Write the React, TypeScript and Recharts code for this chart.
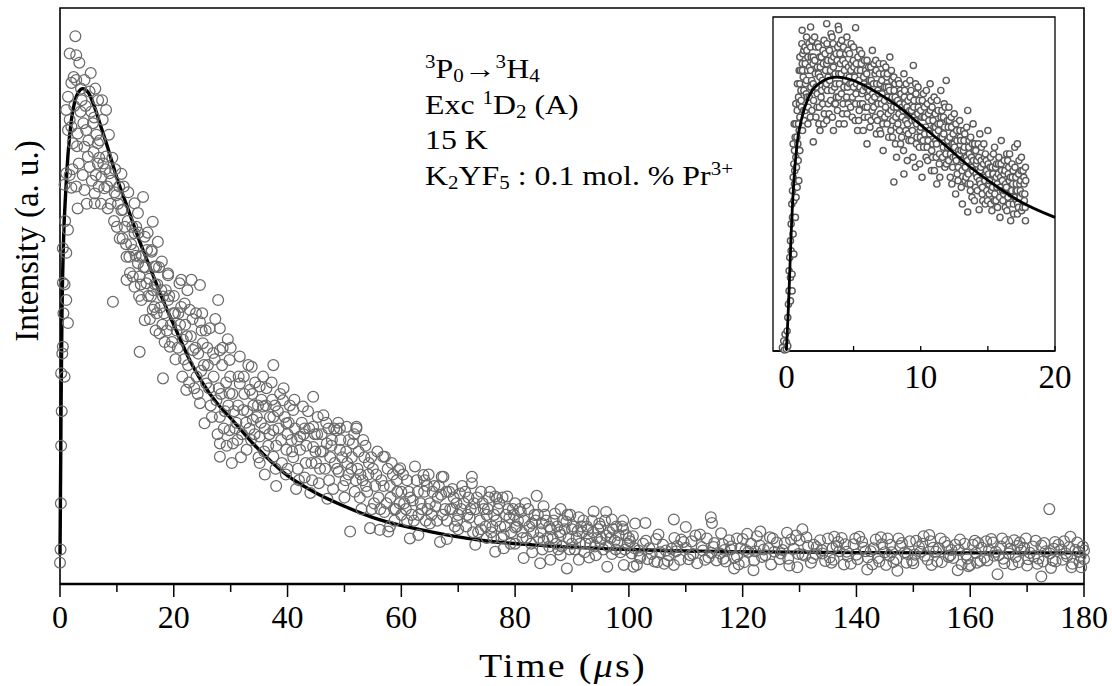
import { ComposedChart, Scatter, Line, XAxis, YAxis, ReferenceArea } from 'recharts';

// main decay: time (µs), intensity (a.u., 0-100 of the frame height)
const riseData: [number, number][] = [
  [0, 3.7], [0.1, 6], [0.15, 14], [0.2, 24], [0.2, 36.6], [0.3, 30], [0.4, 40], [0.5, 41.2], [0.5, 52.3],
  [0.5, 58.3], [0.6, 47], [0.8, 36], [0.8, 52], [0.8, 69.3], [0.9, 63], [1.1, 49.3], [1.1, 57.5], [1.1, 71.3],
  [1.1, 82.3], [1.4, 45.3], [1.4, 61.5], [1.4, 78.8], [1.4, 84.6], [1.7, 71], [1.7, 80.6], [1.7, 92.1],
];

const peakData: [number, number][] = [
  [2, 87], [2, 79.4], [2, 68.8], [2.2, 72], [2.25, 76.5], [2.4, 88], [2.5, 83], [2.7, 95.1], [2.85, 91.8],
  [2.85, 87.5], [2.85, 69], [3, 76], [3.1, 78.2], [3.1, 65.2], [3.3, 73], [3.4, 90.5], [3.6, 82], [3.7, 86],
  [3.8, 84], [4, 71], [4.1, 80], [4.3, 87.5], [4.3, 75.9], [4.3, 68.4], [4.5, 83], [4.6, 78.8], [4.7, 66],
  [4.9, 74.2], [5, 77], [5.2, 85.5], [5.2, 72.4], [5.4, 88.7], [5.5, 82], [5.6, 70], [5.8, 80], [5.9, 75],
  [6, 81], [6.1, 67.8], [6.1, 66.1], [6.2, 86], [6.3, 71], [6.4, 78], [6.65, 76.5], [6.65, 73], [6.7, 84],
  [6.8, 69], [6.9, 74], [7, 77], [7.2, 66], [7.3, 70.7], [7.4, 84], [7.5, 80.6], [7.6, 73], [7.8, 68.7],
  [8, 72], [8.1, 82.3], [8.1, 74.2], [8.3, 69], [8.4, 65.2], [8.6, 78], [8.7, 71.3], [8.9, 66], [9, 70],
  [9.2, 74], [9.3, 49], [9.5, 63], [9.6, 68], [9.7, 72], [9.9, 67.5], [10, 62],
];

const midData: [number, number][] = [
  [10.2, 66], [10.4, 69], [10.5, 60], [10.8, 71.2], [10.8, 64.9], [11, 60], [11.1, 65], [11.2, 69],
  [11.4, 62], [11.6, 59], [11.7, 56.8], [11.7, 52.8], [11.9, 63], [12, 68], [12.2, 56.8], [12.3, 54],
  [12.5, 59], [12.7, 62], [12.8, 53.4], [12.9, 58], [13.1, 66.1], [13.1, 60.9], [13.1, 51.6], [13.3, 57],
  [13.4, 62], [13.7, 64.4], [13.7, 55.7], [13.8, 61], [13.9, 50], [14, 53.4], [14, 56.8], [14, 40.3],
  [14.2, 52], [14.3, 49.3], [14.4, 57], [14.6, 67.2], [14.7, 55], [14.9, 60.3], [14.9, 45.8], [15, 55],
  [15.2, 52.2], [15.3, 58], [15.4, 61], [15.5, 50], [15.7, 53], [15.8, 46], [16, 50], [16.1, 58],
  [16.1, 57.7], [16.3, 62.9], [16.3, 47.6], [16.4, 51], [16.6, 55.1], [16.6, 48.1], [16.7, 52], [16.8, 44],
  [16.9, 55.1], [17, 47], [17.1, 52], [17.2, 59.4], [17.4, 55], [17.5, 43.5], [17.6, 48], [17.8, 51],
  [17.9, 56], [18, 45], [18.1, 49.9], [18.1, 35.7], [18.3, 47], [18.4, 42], [18.6, 51], [18.8, 44],
  [19, 53.9], [19, 49.3], [19, 53.6], [19.2, 50], [19.3, 41.2], [19.5, 45], [19.7, 42], [19.9, 47], [20, 50],
  [20.2, 47], [20.3, 39], [20.5, 44], [20.7, 41], [20.8, 47], [21, 52.2], [21.1, 45], [21.3, 52.8],
  [21.3, 48.1], [21.5, 36], [21.6, 42.4], [21.8, 39], [21.9, 48.7], [22, 45], [22.2, 33.7], [22.3, 43],
  [22.4, 51], [22.5, 38], [22.7, 35], [22.8, 47.6], [23, 43], [23.1, 52.8], [23.3, 46], [23.4, 40.6],
  [23.6, 34], [23.8, 41], [23.9, 47], [24, 36], [24.2, 33], [24.3, 40], [24.6, 51.9], [24.6, 45.5],
  [24.6, 31.4], [24.8, 37], [24.9, 44], [25, 47], [25.1, 41.8], [25.4, 27.9], [25.7, 34.8],
];

const slopeData: [number, number][] = [
  [25.3, 38], [25.6, 44], [25.9, 41], [26, 38], [26.2, 34], [26.3, 44.4], [26.5, 31], [26.7, 29],
  [26.9, 40.1], [27, 36], [27.2, 39], [27.3, 46], [27.5, 31.9], [27.7, 26], [27.8, 49.3], [27.9, 34],
  [28.1, 44.4], [28.1, 40.6], [28.1, 29], [28.1, 24.4], [28.1, 22.1], [28.3, 33], [28.5, 38], [28.6, 41],
  [28.8, 27], [29, 30], [29.2, 35], [29.3, 24], [29.5, 42.5], [29.6, 31], [29.8, 38.9], [29.8, 33.1],
  [29.8, 26.7], [29.9, 36], [30, 41], [30.2, 21], [30.3, 33], [30.4, 24.4], [30.6, 30], [30.8, 27], [31, 28],
  [31.2, 25], [31.3, 31], [31.4, 36], [31.6, 39.5], [31.6, 34.8], [31.8, 22], [32, 26], [32.2, 30.2],
  [32.3, 36], [32.4, 33], [32.7, 28], [32.8, 23.3], [32.9, 30], [33.1, 38], [33.3, 27], [33.4, 33.7],
  [33.6, 25], [33.7, 37.7], [33.8, 33], [33.9, 28.5], [34, 31], [34.2, 26], [34.3, 35], [34.6, 29],
  [34.8, 31], [34.9, 22], [35.1, 34.3], [35.1, 25.6], [35.1, 21], [35.3, 28], [35.4, 32], [35.7, 36],
  [35.7, 30.8], [35.9, 23], [36, 27], [36, 19], [36.2, 31], [36.3, 34], [36.6, 24], [36.8, 26], [36.9, 29],
  [37.2, 35], [37.3, 32], [37.5, 38], [37.5, 29], [37.5, 26.7], [37.5, 22.1], [37.8, 31], [37.9, 20],
  [38, 24], [38, 17], [38.3, 30], [38.4, 27], [38.7, 33], [38.9, 25], [39, 21], [39.2, 31.9], [39.3, 34],
  [39.5, 29], [39.7, 19], [39.8, 27.9], [39.8, 23.3], [40, 26], [40, 20], [40.2, 28], [40.4, 31], [40.7, 25],
  [40.8, 23], [41, 30.2], [41, 22], [41.2, 32], [41.3, 27], [41.5, 16.5], [41.7, 25], [41.8, 20], [42, 18],
  [42.2, 25.6], [42.2, 23.3], [42.5, 28], [42.7, 30.8], [42.8, 26], [43, 27], [43, 18.5], [43.2, 21],
  [43.3, 24], [43.6, 30], [43.8, 27], [44, 15.8], [44.2, 21], [44.3, 18], [44.5, 32.5], [44.5, 27.3],
  [44.5, 23.8], [44.8, 26], [44.9, 23], [45, 21], [45.2, 26], [45.3, 29], [45.5, 17.5], [45.7, 20],
  [45.8, 23], [46, 26], [46.2, 23], [46.3, 29.3], [46.6, 20], [46.8, 28], [46.9, 24.4], [47, 14.8],
  [47.2, 27], [47.3, 18], [47.5, 22], [47.7, 24], [47.8, 25], [48, 16.5], [48.2, 27], [48.3, 21],
  [48.6, 26.7], [48.7, 20], [48.9, 28], [49, 19.5], [49.2, 23.3], [49.2, 27], [49.3, 25], [49.6, 22],
  [49.8, 17], [50, 15], [50.2, 18], [50.3, 23], [50.4, 27.3], [50.5, 21], [50.7, 19], [50.8, 25], [51, 9.1],
  [51.2, 20], [51.3, 22], [51.5, 24.4], [51.7, 26], [51.8, 16], [52, 18], [52.1, 27.3], [52.1, 27],
  [52.3, 20], [52.5, 23], [52.7, 15], [52.8, 19], [53, 13], [53.2, 18], [53.3, 25], [53.5, 22], [53.7, 24],
  [53.8, 17], [54, 16], [54.2, 19], [54.3, 21], [54.5, 9.7], [54.7, 22], [54.8, 13], [55, 20], [55.2, 14],
  [55.4, 17], [55.6, 19], [55.8, 23], [56.2, 9.4], [57.7, 9.1],
];

const flatData: [number, number][] = [
  [56, 15], [56.3, 13], [56.5, 18], [56.8, 22.1], [56.9, 17], [57, 12.5], [57.1, 22.1], [57.4, 14],
  [57.6, 20], [58, 17], [58, 10], [58.1, 15], [58.3, 21], [58.5, 19], [58.7, 13], [58.8, 11], [59, 13],
  [59.2, 18], [59.3, 16], [59.5, 19.8], [59.7, 14], [59.8, 20.1], [60, 16], [60, 12], [60.3, 19], [60.5, 14],
  [60.8, 13], [61, 11], [61, 18], [61.3, 16], [61.5, 7.9], [61.6, 15], [61.8, 12], [62, 14.5], [62.2, 11],
  [62.4, 20.4], [62.7, 18], [62.9, 16], [63, 12], [63, 8.5], [63.4, 14], [63.6, 13], [63.9, 18.9], [64, 16],
  [64.1, 18], [64.3, 11], [64.5, 17], [64.6, 13], [64.8, 19], [65, 10.5], [65, 14], [65.3, 12], [65.5, 16],
  [65.8, 17], [66, 13.5], [66.3, 11], [66.4, 15], [66.6, 17], [66.8, 7.3], [67, 15.5], [67.1, 18.6],
  [67.3, 12], [67.4, 18.6], [67.7, 13], [67.9, 16], [68, 11], [68, 7.8], [68.4, 16], [68.6, 13], [69, 13],
  [69, 16.5], [69.2, 15], [69.4, 10], [69.7, 14], [69.8, 11], [70, 9.5], [70, 12], [70.3, 15.7], [70.5, 13],
  [70.7, 17], [71, 14], [71.2, 16], [71.4, 10], [71.6, 12], [71.8, 15], [72, 11.5], [72.2, 13], [72.4, 18.6],
  [72.4, 17.5], [72.6, 9], [72.8, 14], [73, 13], [73, 6.8], [73.3, 15], [73.5, 9], [73.8, 11], [74, 9.5],
  [74, 16], [74.3, 14], [74.5, 13], [74.8, 10], [75, 12], [75, 8], [75.2, 13], [75.4, 15], [75.6, 16],
  [75.8, 9], [76, 10], [76.2, 8], [76.3, 12], [76.5, 15.2], [76.5, 5.6], [76.7, 11], [76.8, 14.9], [77, 13],
  [77.2, 14], [77.4, 10], [77.6, 8], [77.8, 15], [78, 8.5], [78, 6.2], [78.2, 10], [78.4, 12], [78.6, 15.2],
  [78.8, 13], [79, 11.5], [79.2, 7], [79.3, 9], [79.6, 13], [79.8, 12], [80, 9.8], [80, 7], [80, 14],
  [80.3, 10], [80.5, 11], [80.8, 13], [81, 12.5], [81.2, 9], [81.3, 8], [81.5, 4.5], [81.6, 11], [81.8, 14],
  [82, 8], [82.3, 13], [82.5, 10], [82.8, 7], [83, 10.5], [83, 5.5], [83.2, 9], [83.4, 12], [83.6, 11],
  [83.8, 15.3], [84, 12], [84.2, 8], [84.4, 3.6], [84.5, 9], [84.7, 10.5], [84.8, 6], [85, 7.5], [85, 13.5],
  [85.2, 12], [85.4, 11], [85.7, 8], [86, 10], [86, 6.5], [86.2, 4.2], [86.3, 9.5], [86.6, 8], [86.8, 11],
  [87, 12.2], [87.2, 7], [87.4, 10], [87.6, 6], [87.8, 9], [88, 8.5], [88, 5], [88, 13], [88.2, 6.5],
  [88.4, 11], [88.7, 9.5], [89, 10.8], [89.1, 2.7], [89.2, 12], [89.4, 8], [89.6, 6], [89.7, 12], [90, 7],
  [90, 9.5], [90.2, 10], [90.5, 6], [90.8, 8], [91, 9.2], [91.2, 11.6], [91.2, 4.2], [91.4, 7], [91.6, 10],
  [91.8, 9], [92, 11], [92.2, 5.5], [92.4, 7], [92.6, 10], [92.8, 9.5], [93, 8], [93, 4.6], [93.2, 7],
  [93.5, 11], [93.7, 9], [93.8, 12.6], [94, 6.5], [94.2, 5], [94.4, 8], [94.6, 9.5], [94.8, 10.5], [95, 10],
  [95, 7.3], [95.2, 8], [95.5, 6], [95.8, 11], [96, 8.4], [96, 12.5], [96.2, 3], [96.4, 6.5], [96.6, 9],
  [96.8, 8], [97, 11.2], [97, 5.2], [97.2, 9.5], [97.5, 7.5], [97.7, 6], [97.8, 10], [98, 7.2], [98.2, 8.5],
  [98.5, 5.5], [98.8, 10], [99, 9.5], [99, 11], [99.1, 3.3], [99.3, 6], [99.5, 8.5], [99.8, 7], [100, 8],
];

const tailData: [number, number][] = [
  [100.2, 7.4], [100.5, 5.3], [100.7, 8.3], [100.8, 3], [101, 6.2], [101.1, 10.5], [101.4, 3.3], [101.7, 5.8],
  [101.9, 4.8], [102, 4.5], [102.5, 7], [102.9, 10.6], [103, 7.5], [103.3, 4.3], [103.6, 6.2], [104, 5.2],
  [104.5, 3.9], [104.8, 7.8], [105, 3.8], [105.2, 8.6], [105.5, 5.5], [106, 6.8], [106.2, 3.5], [106.5, 5.8],
  [106.8, 4], [107, 5], [107.5, 6.1], [107.9, 11.2], [107.9, 3.3], [108, 8], [108.3, 5.7], [108.5, 6.6],
  [109, 4.2], [109.2, 7.7], [109.6, 7.3], [110, 6.3], [110, 9.9], [110.5, 4.3], [110.8, 5], [111, 7.4],
  [111.3, 5.2], [111.7, 8.4], [112, 3.6], [112.5, 8.6], [112.8, 6.4], [113, 5.8], [113.4, 4.2], [113.7, 7.9],
  [114, 4.6], [114.4, 11.6], [114.5, 5.4], [114.6, 10.6], [114.9, 6.4], [115, 7.1], [115.4, 4.1], [116, 5.3],
  [116.2, 8.8], [116.5, 6.9], [116.6, 4.4], [116.8, 5.9], [117, 3.9], [117.6, 7.6], [117.9, 6], [118, 6.5],
  [118.5, 4.6], [118.5, 2.7], [119, 4.8], [119, 7.9], [119.3, 3.4], [119.6, 6.2], [120, 7.8], [120.3, 3.8],
  [120.5, 5.9], [120.8, 8.7], [121, 5.6], [121.5, 7], [121.9, 2.4], [122, 4.1], [122.2, 5.7], [122.5, 8.3],
  [123, 6.7], [123.1, 9.1], [123.4, 4.7], [123.7, 6], [124, 5], [124.5, 6.2], [124.8, 8.1], [125, 3.4],
  [125.3, 7.9], [125.6, 5.6], [126, 7.2], [126.5, 4.3], [126.7, 5.3], [127, 5.9], [127.4, 7.1], [127.8, 8.9],
  [128, 4.4], [128.2, 3.2], [128.5, 7.7], [129, 6.1], [129.4, 8.4], [129.6, 2.9], [129.8, 5.2], [130, 7.6],
  [130.5, 9.5], [130.5, 5.1], [131, 4.9], [131.2, 8.1], [131.5, 6.6], [132, 3.7], [132.3, 4.5], [132.5, 6.8],
  [132.8, 5.2], [133, 6.4], [133.6, 7.6], [133.9, 5.9], [134, 5.3], [134.5, 4], [135, 7.9], [135.3, 4.6],
  [135.6, 3.7], [135.8, 6.2], [136, 4.2], [136.1, 8.2], [136.5, 6.6], [136.8, 7.3], [137, 5.7], [137.4, 8],
  [137.8, 3.4], [138, 6.9], [138.3, 5.6], [138.5, 4.8], [139, 3.5], [139.5, 6.9], [139.8, 7.9], [140, 5.1],
  [140.2, 4.3], [140.5, 8.2], [141, 7.3], [141.3, 6.3], [141.6, 5.7], [141.9, 2.5], [142, 4.6], [142.5, 5.7],
  [142.8, 3.4], [143, 6.2], [143.4, 7.7], [143.8, 4.5], [144, 3.9], [144.3, 8.1], [144.5, 6.9], [145, 5.5],
  [145.2, 3.3], [145.5, 7.9], [145.8, 4.9], [146, 6.8], [146.2, 5.5], [146.5, 3.8], [147, 4.3], [147.2, 2.3],
  [147.4, 7.9], [147.7, 6.6], [148, 7.1], [148.5, 5.5], [148.8, 3.7], [149, 5.2], [149.4, 7.4], [149.8, 4.1],
  [150, 3.6], [150.3, 5.1], [150.5, 7.5], [151, 6.4], [151.3, 5.6], [151.6, 7], [151.8, 8.3], [152, 4.9],
  [152.5, 4.2], [152.8, 8.5], [153, 7.4], [153.2, 3.3], [153.5, 6.3], [154, 5.6], [154.2, 3.9], [154.5, 6.2],
  [154.8, 7.9], [155, 3.8], [155.5, 7.3], [156, 6.6], [156.2, 4.7], [156.5, 5], [156.7, 5.9], [157, 4.5],
  [157.4, 6.8], [157.8, 2.4], [158, 5.9], [158.2, 7.7], [158.5, 3.4], [159, 7], [159.3, 5.1], [159.5, 4.4],
  [159.7, 3.1], [160, 3.3], [160.5, 6.8], [160.8, 7.5], [161, 5.4], [161.2, 3.7], [161.4, 7.1], [161.8, 4],
  [162, 6.3], [162.5, 4.6], [162.8, 7.4], [163, 4.1], [163.3, 5.9], [163.7, 7.8], [164, 7.2], [164.2, 4.9],
  [164.5, 5.6], [164.8, 1.7], [165, 5], [165.4, 6.5], [165.6, 7.9], [165.8, 4.4], [166, 3.6], [166.5, 7.3],
  [166.8, 5.3], [167, 6.1], [167.4, 3.4], [167.7, 7.6], [168, 4.7], [168.3, 6.6], [168.5, 3.8], [168.7, 7.2],
  [169, 5.8], [169.5, 6.3], [169.8, 7.9], [170, 3.2], [170.2, 4.3], [170.5, 5.4], [171, 6.5], [171.2, 4.8],
  [171.5, 7.5], [171.8, 3.5], [172, 4.4], [172.5, 6.7], [172.5, 1.3], [172.8, 3.9], [173, 7.1], [173.3, 5.7],
  [173.9, 13], [174, 5.3], [174.2, 2.8], [174.5, 4.1], [174.7, 6.1], [174.9, 7.3], [175, 3.9], [175.5, 6.8],
  [176, 6], [176.2, 4.2], [176.5, 7.4], [176.8, 5.3], [177, 4.8], [177.4, 6.4], [177.6, 8.2], [177.8, 2.9],
  [178, 3.5], [178.5, 5.9], [178.8, 7.2], [179, 5.6], [179.2, 3.8], [179.4, 4.9], [179.5, 2.9], [179.8, 6.5],
  [180, 4.3], [180, 5.8],
];

// fitted curve of the main decay
const fitMain: [number, number][] = [
  [0, 5], [0.1, 18], [0.2, 32], [0.35, 47], [0.6, 59], [1, 68], [1.4, 74.5], [2, 80.5], [2.6, 83.8],
  [3.2, 85.3], [4, 86], [5, 85.3], [6, 83], [7, 80], [8, 77], [10, 70.5], [12, 65], [14, 59.5], [16, 54.5],
  [18, 49.5], [20, 45], [23, 38.5], [25, 35], [27.5, 31.5], [30, 28.8], [34, 24.3], [40, 18.8], [45, 15.8],
  [50, 13.5], [56, 11.2], [65, 9.1], [74, 7.6], [83, 6.8], [100, 6], [120, 5.6], [140, 5.45], [160, 5.4],
  [180, 5.4],
];

// inset: first 18 µs of the same decay
const insetRise: [number, number][] = [
  [-0.3, 1], [-0.2, 3], [-0.15, 0.3], [-0.1, 5], [0, 0.5], [0, 2.5], [0.05, 6], [0.1, 1.5], [0.1, 10],
  [0.15, 14], [0.2, 18], [0.2, 24], [0.25, 28], [0.3, 22], [0.3, 15], [0.3, 33], [0.35, 38], [0.35, 30],
  [0.4, 44], [0.42, 18], [0.42, 23], [0.45, 48], [0.45, 40], [0.5, 52], [0.5, 35], [0.5, 62], [0.55, 56],
  [0.55, 45], [0.55, 29], [0.58, 68], [0.6, 60], [0.6, 50], [0.62, 54], [0.65, 64], [0.67, 40], [0.7, 58],
  [0.7, 68], [0.7, 74], [0.72, 46], [0.75, 55], [0.78, 64], [0.8, 72], [0.8, 49], [0.82, 80], [0.85, 62],
  [0.88, 57], [0.9, 76], [0.9, 68], [0.92, 51], [0.95, 66], [0.95, 84], [0.97, 74], [1, 70], [1, 80], [1, 88],
  [1, 60],
];

const insetPeak: [number, number][] = [
  [1.05, 84], [1.08, 78], [1.1, 75], [1.12, 73], [1.15, 92], [1.17, 96], [1.18, 86], [1.2, 84], [1.2, 66],
  [1.22, 89], [1.25, 82], [1.28, 72], [1.3, 78], [1.3, 90], [1.32, 69], [1.38, 91], [1.4, 72], [1.4, 86],
  [1.42, 80], [1.48, 77], [1.5, 81], [1.5, 94], [1.52, 90], [1.55, 76], [1.58, 84], [1.6, 68], [1.6, 88],
  [1.62, 73], [1.68, 92], [1.7, 76], [1.72, 85], [1.78, 70], [1.8, 97], [1.8, 84], [1.8, 91], [1.82, 79],
  [1.85, 88], [1.88, 81], [1.9, 72], [1.92, 93], [1.98, 86], [2, 62.6], [2, 80], [2, 88], [2.02, 75],
  [2.08, 78], [2.1, 94], [2.12, 87], [2.15, 83], [2.18, 91], [2.2, 70], [2.22, 79], [2.28, 73], [2.3, 85],
  [2.3, 77], [2.32, 92], [2.38, 83], [2.4, 91], [2.42, 68], [2.45, 73], [2.48, 88], [2.5, 66], [2.5, 82],
  [2.52, 85], [2.58, 76], [2.6, 88], [2.62, 78], [2.68, 81], [2.7, 74], [2.72, 90], [2.75, 86], [2.78, 68],
  [2.8, 93], [2.82, 71], [2.88, 89], [2.9, 79], [2.92, 84], [2.98, 80], [3, 98], [3, 86], [3, 69], [3.02, 92],
  [3.05, 78], [3.08, 87], [3.1, 82], [3.12, 74], [3.18, 71], [3.2, 90], [3.22, 81], [3.28, 84], [3.3, 75],
  [3.32, 95], [3.35, 87], [3.38, 78], [3.4, 94], [3.42, 70], [3.48, 92], [3.5, 66], [3.5, 85], [3.52, 88],
  [3.58, 74], [3.6, 79], [3.62, 83], [3.65, 74], [3.68, 80], [3.7, 89], [3.72, 76], [3.78, 87], [3.8, 72],
  [3.82, 91], [3.86, 97.2], [3.88, 76], [3.9, 96.2], [3.9, 83], [3.92, 68], [3.95, 80], [3.98, 89], [4, 92],
  [4.02, 86], [4.08, 83], [4.1, 77], [4.12, 93], [4.18, 71], [4.2, 87], [4.22, 74], [4.25, 91], [4.28, 79],
  [4.3, 68], [4.32, 84], [4.38, 86], [4.4, 81], [4.42, 89], [4.48, 76], [4.5, 94], [4.52, 71], [4.55, 79],
  [4.58, 90], [4.6, 74], [4.62, 85], [4.68, 82], [4.7, 89], [4.72, 80], [4.78, 73], [4.8, 84], [4.82, 92],
  [4.85, 86], [4.88, 80], [4.9, 70], [4.92, 76], [4.98, 87], [5, 79], [5, 91], [5.02, 85], [5.08, 82],
  [5.12, 69], [5.15, 96.8], [5.15, 74], [5.18, 77],
];

const insetMid: [number, number][] = [
  [5.2, 86], [5.22, 80], [5.28, 84], [5.3, 66], [5.32, 88], [5.38, 69], [5.4, 81], [5.42, 72], [5.45, 90],
  [5.48, 79], [5.5, 74], [5.52, 84], [5.58, 86], [5.6, 89], [5.62, 77], [5.68, 74], [5.7, 78], [5.72, 66],
  [5.75, 82], [5.78, 80], [5.8, 70], [5.82, 87], [5.88, 73], [5.9, 84], [5.92, 79], [5.98, 83], [6, 62],
  [6, 87], [6.02, 73], [6.05, 79], [6.08, 70], [6.1, 76], [6.12, 85], [6.18, 78], [6.2, 81], [6.22, 67],
  [6.28, 85], [6.3, 69], [6.32, 81], [6.35, 75], [6.38, 72], [6.4, 90], [6.42, 77], [6.48, 80], [6.5, 73],
  [6.52, 86], [6.58, 76], [6.6, 83], [6.62, 70], [6.65, 87], [6.68, 84], [6.7, 65], [6.72, 80], [6.78, 69],
  [6.8, 78], [6.82, 74], [6.88, 77], [6.9, 86], [6.92, 83], [6.95, 66], [6.98, 80], [7, 71], [7.02, 65],
  [7.08, 74], [7.1, 81], [7.12, 77], [7.18, 68], [7.2, 60], [7.22, 86], [7.25, 83], [7.28, 79], [7.3, 75],
  [7.32, 70], [7.38, 73], [7.4, 85], [7.42, 79], [7.48, 82], [7.5, 68], [7.52, 83], [7.55, 76], [7.58, 71],
  [7.6, 79], [7.62, 64], [7.68, 78], [7.7, 88], [7.72, 75], [7.78, 66], [7.8, 72], [7.82, 84], [7.85, 81],
  [7.88, 76], [7.9, 64], [7.92, 69], [7.98, 73], [8, 82], [8, 50.6], [8.02, 78], [8.08, 80], [8.1, 76],
  [8.12, 62], [8.15, 70], [8.18, 67], [8.2, 58], [8.22, 73], [8.28, 75], [8.3, 68], [8.32, 81], [8.38, 71],
  [8.4, 80], [8.42, 66], [8.45, 74], [8.48, 78], [8.5, 62], [8.52, 77], [8.58, 64], [8.6, 73], [8.62, 70],
  [8.68, 72], [8.72, 60], [8.75, 53], [8.75, 83], [8.78, 76], [8.8, 78], [8.82, 74], [8.88, 69], [8.9, 66],
  [8.92, 80], [8.98, 73], [9, 57], [9.02, 68], [9.05, 75], [9.08, 65], [9.1, 71], [9.12, 63], [9.18, 72],
  [9.2, 81], [9.22, 76], [9.28, 78], [9.3, 63], [9.32, 72], [9.35, 69], [9.38, 66], [9.42, 58], [9.45, 85.5],
  [9.48, 73], [9.5, 75], [9.52, 70], [9.58, 69], [9.6, 55], [9.62, 80], [9.65, 77], [9.68, 62], [9.7, 68],
  [9.72, 64], [9.78, 71], [9.8, 79], [9.82, 73], [9.88, 75], [9.9, 61], [9.92, 56], [9.95, 66], [9.98, 64],
  [10, 72], [10.02, 67], [10.08, 70], [10.1, 52], [10.12, 75], [10.18, 63], [10.2, 77], [10.22, 61],
  [10.25, 70], [10.28, 73], [10.3, 65], [10.32, 70], [10.38, 67], [10.4, 58], [10.42, 78], [10.48, 61],
  [10.5, 74], [10.52, 57], [10.55, 63], [10.58, 71], [10.6, 69], [10.62, 66], [10.68, 65], [10.7, 80],
  [10.72, 72], [10.78, 75], [10.8, 54], [10.82, 60], [10.85, 73], [10.88, 58], [10.9, 62], [10.92, 69],
  [10.98, 67], [11, 76], [11.02, 54], [11.08, 71], [11.1, 67], [11.12, 63], [11.15, 58], [11.18, 62],
  [11.2, 50], [11.22, 75], [11.28, 68], [11.3, 72], [11.32, 66], [11.38, 56], [11.4, 59], [11.42, 52],
  [11.45, 68], [11.48, 64], [11.5, 78], [11.52, 70], [11.58, 72], [11.6, 64], [11.62, 58], [11.68, 61],
  [11.7, 70], [11.72, 65], [11.75, 74], [11.78, 67], [11.8, 55], [11.82, 73], [11.88, 59], [11.9, 81],
  [11.92, 56], [11.98, 69], [12, 61],
];

const insetTail: [number, number][] = [
  [12.02, 63], [12.05, 67], [12.08, 57], [12.1, 73], [12.12, 69], [12.18, 64], [12.2, 52], [12.22, 59],
  [12.28, 70], [12.3, 67], [12.32, 50], [12.35, 62], [12.38, 55], [12.4, 58], [12.42, 65], [12.48, 62],
  [12.5, 71], [12.52, 61], [12.58, 58], [12.6, 47], [12.62, 68], [12.65, 57], [12.68, 66], [12.7, 63],
  [12.72, 53], [12.78, 51], [12.8, 55], [12.82, 60], [12.88, 59], [12.9, 69], [12.92, 66], [12.95, 64],
  [12.98, 63], [13, 60], [13.02, 49], [13.08, 54], [13.1, 44], [13.12, 57], [13.18, 60], [13.2, 66],
  [13.22, 63], [13.25, 61], [13.28, 65], [13.3, 51], [13.32, 55], [13.38, 52], [13.4, 58], [13.42, 67],
  [13.48, 57], [13.5, 72], [13.5, 41.6], [13.52, 50], [13.55, 53], [13.58, 61], [13.6, 63], [13.62, 59],
  [13.68, 50], [13.7, 48], [13.72, 64], [13.78, 58], [13.8, 55], [13.82, 46], [13.85, 62], [13.88, 54],
  [13.9, 68], [13.92, 57], [13.98, 60], [14, 45], [14.02, 62], [14.08, 49], [14.1, 60], [14.12, 53],
  [14.15, 56], [14.18, 57], [14.2, 52], [14.22, 48], [14.28, 62], [14.32, 58], [14.35, 42.3], [14.38, 51],
  [14.4, 65], [14.42, 54], [14.45, 50], [14.48, 55], [14.5, 57], [14.52, 61], [14.58, 47], [14.6, 49],
  [14.62, 45], [14.68, 56], [14.7, 62], [14.72, 52], [14.75, 58], [14.78, 51], [14.8, 44], [14.82, 59],
  [14.88, 57], [14.9, 54], [14.92, 48], [14.98, 45], [15, 66], [15.02, 56], [15.05, 53], [15.08, 50],
  [15.1, 47], [15.12, 51], [15.18, 55], [15.2, 58], [15.22, 44], [15.28, 48], [15.3, 42], [15.32, 55],
  [15.35, 49], [15.38, 53], [15.4, 53], [15.42, 59], [15.48, 45], [15.5, 61], [15.52, 47], [15.58, 55],
  [15.6, 45], [15.62, 52], [15.65, 56], [15.68, 49], [15.7, 50], [15.72, 43], [15.78, 53], [15.8, 56],
  [15.82, 58], [15.88, 46], [15.9, 40], [15.92, 49], [15.95, 52], [15.98, 56], [16, 63], [16.02, 54],
  [16.08, 51], [16.1, 48], [16.12, 45], [16.18, 47], [16.2, 53], [16.22, 57], [16.25, 48], [16.28, 54],
  [16.3, 43], [16.32, 50], [16.38, 49], [16.4, 59], [16.42, 42], [16.48, 57], [16.5, 46], [16.52, 53],
  [16.55, 55], [16.58, 44], [16.6, 51], [16.62, 59], [16.68, 52], [16.7, 39], [16.72, 47], [16.78, 48],
  [16.8, 56], [16.82, 52], [16.85, 50], [16.88, 54], [16.9, 44], [16.92, 41], [16.98, 46], [17, 61],
  [17.02, 55], [17.08, 52], [17.1, 48], [17.12, 50], [17.15, 45], [17.18, 48], [17.2, 41], [17.2, 62],
  [17.22, 44], [17.28, 43], [17.3, 53], [17.32, 57], [17.38, 50], [17.4, 46], [17.42, 48], [17.45, 51],
  [17.48, 54], [17.5, 58], [17.52, 42], [17.58, 47], [17.6, 43], [17.62, 54], [17.68, 52], [17.7, 50],
  [17.72, 45], [17.75, 47], [17.78, 43], [17.8, 39], [17.8, 55], [17.82, 51],
];

const fitInset: [number, number][] = [
  [0, 0.2], [0.17, 15], [0.35, 35], [0.54, 50], [0.79, 62], [1.16, 70], [1.65, 76], [2.4, 80], [3.7, 82],
  [5, 81], [6.7, 77.5], [8.4, 73], [9.9, 68], [11.7, 62], [13.4, 56], [15.4, 50], [17.3, 45], [20, 40],
];

const mainTicks = [0, 10, 20, 30, 40, 50, 60, 70, 80, 90, 100, 110, 120, 130, 140, 150, 160, 170, 180];
const mainLabels = [0, 20, 40, 60, 80, 100, 120, 140, 160, 180];
const insetTicks = [0, 5, 10, 15, 20];
const insetLabels = [0, 10, 20];

const SERIF = '"Liberation Serif", "Times New Roman", serif';

const toPoints = (rows: [number, number][]) => rows.map(([t, v]) => ({ t, v }));
const mainScatter = toPoints([...riseData, ...peakData, ...midData, ...slopeData, ...flatData, ...tailData]);
const insetScatter = toPoints([...insetRise, ...insetPeak, ...insetMid, ...insetTail]);

const MainTick = ({ x, y, payload }: any) => {
  const major = mainLabels.includes(payload.value);
  return (
    <g>
      <line x1={x} y1={y} x2={x} y2={y + (major ? 13 : 8)} stroke="#000" strokeWidth={1.5} />
      {major && (
        <text x={x} y={y + 44} textAnchor="middle" fontFamily={SERIF} fontSize={32} fill="#000">
          {payload.value}
        </text>
      )}
    </g>
  );
};

const InsetTick = ({ x, y, payload }: any) => {
  const major = insetLabels.includes(payload.value);
  return (
    <g>
      <line x1={x} y1={y} x2={x} y2={y - 5} stroke="#000" strokeWidth={1.3} />
      {major && (
        <text x={x} y={y + 37} textAnchor="middle" fontFamily={SERIF} fontSize={33} fill="#000">
          {payload.value}
        </text>
      )}
    </g>
  );
};

const HollowDot = ({ cx, cy }: any) => (
  <circle cx={cx} cy={cy} r={5.4} fill="none" stroke="#6a6a6a" strokeWidth={1.25} />
);

const SmallDot = ({ cx, cy }: any) => (
  <circle cx={cx} cy={cy} r={3.1} fill="#fff" stroke="#5a5a5a" strokeWidth={1.4} />
);

const sup = { fontSize: '0.66em', verticalAlign: '0.55em', lineHeight: 0 } as const;
const sub = { fontSize: '0.66em', verticalAlign: '-0.22em', lineHeight: 0 } as const;

const layer = { position: 'absolute', left: 0, top: 0 } as const;
const insetMargin = { top: 17, right: 57, left: 773, bottom: 0 };

export default function App() {
  return (
    <div style={{ position: 'absolute', left: 0, top: 0, width: 1112, height: 686, background: '#fff' }}>
      <div style={layer}>
        <ComposedChart width={1112} height={686} margin={{ top: 8, right: 28, left: 60, bottom: 0 }}>
          <XAxis
            dataKey="t"
            type="number"
            domain={[0, 180]}
            ticks={mainTicks}
            interval={0}
            tickSize={0}
            tickMargin={0}
            tickLine={false}
            tick={<MainTick />}
            height={102}
            axisLine={{ stroke: '#000', strokeWidth: 2.5 }}
          />
          <YAxis dataKey="v" type="number" domain={[0, 100]} hide />
          <ReferenceArea x1={0} x2={180} y1={0} y2={100} fill="none" fillOpacity={0} stroke="#000" strokeWidth={1.6} />
          <Scatter data={mainScatter} dataKey="v" shape={<HollowDot />} isAnimationActive={false} />
          <Line data={toPoints(fitMain)} dataKey="v" type="monotone" stroke="#000" strokeWidth={3.4} dot={false} isAnimationActive={false} />
        </ComposedChart>
      </div>

      {/* inset: axes, box and points */}
      <div style={layer}>
        <ComposedChart width={1112} height={420} margin={insetMargin}>
          <XAxis
            dataKey="t"
            type="number"
            domain={[-1, 20]}
            ticks={insetTicks}
            interval={0}
            tickSize={0}
            tickMargin={0}
            tickLine={false}
            tick={<InsetTick />}
            height={69}
            axisLine={{ stroke: '#000', strokeWidth: 1.6 }}
          />
          <YAxis dataKey="v" type="number" domain={[0, 100]} hide />
          <ReferenceArea x1={-1} x2={20} y1={0} y2={100} fill="none" fillOpacity={0} stroke="#000" strokeWidth={1.3} />
          <Scatter data={insetScatter} dataKey="v" shape={<SmallDot />} isAnimationActive={false} />
        </ComposedChart>
      </div>

      {/* inset fit curve, kept on top of the white-filled points; plot area ends at y = 351 like the inset above */}
      <div style={layer}>
        <ComposedChart width={1112} height={351} margin={insetMargin}>
          <XAxis dataKey="t" type="number" domain={[-1, 20]} hide />
          <YAxis dataKey="v" type="number" domain={[0, 100]} hide />
          <Line data={toPoints(fitInset)} dataKey="v" type="monotone" stroke="#000" strokeWidth={2.8} dot={false} isAnimationActive={false} />
        </ComposedChart>
      </div>

      <div style={{ position: 'absolute', left: 425, top: 52, fontFamily: SERIF, fontSize: 27, lineHeight: '35.5px', color: '#000', whiteSpace: 'nowrap', transform: 'scaleX(1.18)', transformOrigin: 'left top' }}>
        <div><span style={sup}>3</span>P<span style={sub}>0</span>→<span style={sup}>3</span>H<span style={sub}>4</span></div>
        <div>Exc <span style={sup}>1</span>D<span style={sub}>2</span> (A)</div>
        <div>15 K</div>
        <div>K<span style={sub}>2</span>YF<span style={sub}>5</span> : 0.1 mol. % Pr<span style={sup}>3+</span></div>
      </div>

      <div style={{ position: 'absolute', left: 27 - 200, top: 241 - 18, width: 400, height: 36, lineHeight: '36px', textAlign: 'center', fontFamily: SERIF, fontSize: 33, transform: 'rotate(-90deg)', whiteSpace: 'nowrap' }}>
        Intensity (a. u.)
      </div>

      <div style={{ position: 'absolute', left: 563 - 200, top: 648, width: 400, lineHeight: '36px', textAlign: 'center', fontFamily: SERIF, fontSize: 33, letterSpacing: '2px', whiteSpace: 'nowrap', transform: 'scaleX(1.15)' }}>
        Time (<i>μ</i>s)
      </div>
    </div>
  );
}
